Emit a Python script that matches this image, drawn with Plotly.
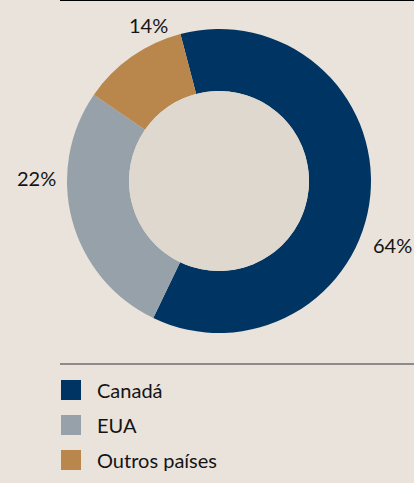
import plotly.graph_objects as go

# ---- data ----
categories = ["Canadá", "EUA", "Outros países"]
arc_values = [61.2, 27.5, 11.3]          # slice sizes as drawn
share_labels = ["64%", "22%", "14%"]     # printed labels
colors = ["#003462", "#97a1aa", "#b9874c"]

W, H = 414, 483
BG = "#e9e3dc"
HOLE = "#ded8ce"
FONT = "Lato"
FSIZE = 20

def px(x, y):
    return x / W, 1 - y / H

cx, cy, R, r_in = 219, 181, 152, 90

fig = go.Figure()
fig.add_trace(go.Pie(
    labels=categories, values=arc_values, sort=False, direction="clockwise",
    rotation=-14.7, hole=r_in / R,
    marker=dict(colors=colors, line=dict(width=0)),
    textinfo="none", hoverinfo="label+value", showlegend=False,
    domain=dict(x=[(cx - R) / W, (cx + R) / W], y=[1 - (cy + R) / H, 1 - (cy - R) / H]),
))
fig.add_trace(go.Pie(
    labels=["centro"], values=[1], sort=False,
    marker=dict(colors=[HOLE], line=dict(width=0)),
    textinfo="none", hoverinfo="skip", showlegend=False,
    domain=dict(x=[(cx - r_in) / W, (cx + r_in) / W], y=[1 - (cy + r_in) / H, 1 - (cy - r_in) / H]),
))

annotations = []
label_pos = [(392, 245), (36, 178), (148, 25)]
for txt, (lx, ly) in zip(share_labels, label_pos):
    x, y = px(lx, ly)
    annotations.append(dict(x=x, y=y, xref="paper", yref="paper", text=txt, showarrow=False,
                            xanchor="center", yanchor="middle",
                            font=dict(family=FONT, size=FSIZE, color="#141414")))

shapes = []
x0, y0 = px(60, 0)
shapes.append(dict(type="line", xref="paper", yref="paper", x0=x0, x1=1, y0=1, y1=1,
                   line=dict(color="#000000", width=2)))
x0, y0 = px(60, 364)
shapes.append(dict(type="line", xref="paper", yref="paper", x0=x0, x1=1, y0=y0, y1=y0,
                   line=dict(color="#333333", width=1)))

leg_y0, leg_dy = 390, 35
for i, (cat, col) in enumerate(zip(categories, colors)):
    yc = leg_y0 + i * leg_dy
    a0, b0 = px(61, yc - 10)
    a1, b1 = px(81, yc + 10)
    shapes.append(dict(type="rect", xref="paper", yref="paper", x0=a0, x1=a1, y0=b1, y1=b0,
                       fillcolor=col, line=dict(width=0)))
    tx, ty = px(95, yc)
    annotations.append(dict(x=tx, y=ty, xref="paper", yref="paper", text=cat, showarrow=False,
                            xanchor="left", yanchor="middle",
                            font=dict(family=FONT, size=FSIZE, color="#141414")))

fig.update_layout(
    width=W, height=H, margin=dict(l=0, r=0, t=0, b=0),
    paper_bgcolor=BG, plot_bgcolor=BG,
    shapes=shapes, annotations=annotations, showlegend=False,
)

fig.write_html("out.html", config={"displayModeBar": False},
               post_script="document.body.style.margin='0';")
